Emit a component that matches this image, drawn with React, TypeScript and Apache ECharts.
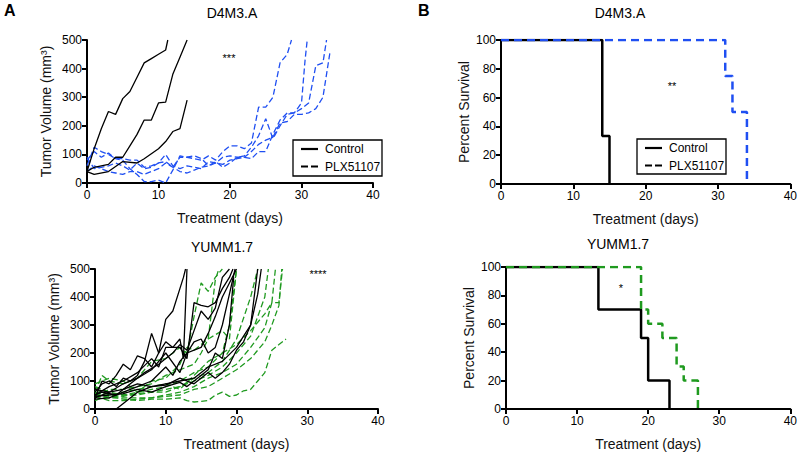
import React, { useEffect, useRef } from "react";
import * as echarts from "echarts";

// ---------- Data ----------
// Panel A top: D4M3.A tumor volume (day, mm3)
const d4Control: number[][][] = [
  [[0,40],[1,120],[2,190],[3,250],[4,240],[5,295],[6,320],[7,370],[8,420],[9,435],[10,450],[11,465],[11.3,500]],
  [[0,40],[1,55],[3,65],[4,90],[5,90],[6,130],[7,170],[8,220],[9,220],[10,280],[11,283],[12,380],[13,440],[14,500]],
  [[0,40],[1,30],[3,40],[5,75],[7,70],[8,85],[10,120],[11,145],[12,180],[13,190],[14,290]],
];
const d4Plx: number[][][] = [
  [[0,60],[1,125],[2,110],[3,100],[4,85],[5,85],[6,80],[7,80],[8,55],[9,60],[10,70],[11,75],[12,55],[13,90],[14,90],[15,85],[16,80],[17,95],[18,80],[19,110],[20,130],[21,130],[22,120],[23,140],[24,265],[25,265],[26,300],[27,420],[28,450],[28.6,500]],
  [[0,40],[1,60],[2,50],[3,40],[4,35],[5,30],[6,40],[7,40],[8,30],[9,40],[10,50],[11,70],[12,55],[13,40],[14,35],[15,45],[16,55],[17,60],[18,70],[19,65],[20,80],[21,85],[22,90],[23,85],[24,110],[25,110],[26,170],[27,220],[28,245],[29,245],[30,280],[30.5,430],[30.8,500]],
  [[0,80],[1,110],[2,90],[3,105],[4,85],[5,80],[6,50],[7,30],[8,5],[9,5],[10,10],[11,0],[12,45],[13,95],[14,90],[15,95],[16,85],[17,60],[18,75],[19,55],[20,70],[21,90],[22,95],[23,125],[24,165],[25,225],[26,155],[27,200],[28,240],[29,245],[30,260],[31,280],[32,410],[33,420],[33.5,500]],
  [[0,90],[1,50],[2,55],[3,60],[4,70],[5,60],[6,45],[7,70],[8,50],[9,55],[10,70],[11,100],[12,60],[13,50],[14,60],[15,55],[16,50],[17,75],[18,70],[19,90],[20,95],[21,90],[22,90],[23,110],[24,135],[25,150],[26,160],[27,210],[28,215],[29,240],[30,240],[31,245],[32,260],[33,300],[34,460]],
];

// Panel A bottom: YUMM1.7 tumor volume
const yuControl: number[][][] = [
  [[0,40],[1,100],[2,90],[3,120],[4,160],[5,140],[6,190],[7,180],[8,150],[9,200],[10,320],[11,350],[12,430],[12.5,470],[12.8,500]],
  [[0,60],[1,90],[2,100],[3,80],[4,110],[5,100],[6,120],[7,170],[8,270],[9,200],[10,240],[11,220],[12,250],[12.5,180],[13,500]],
  [[0,50],[2,80],[4,100],[6,130],[8,180],[9,150],[10,220],[11,220],[12,220],[13,180],[14,380],[15,370],[16,365],[17,380],[18,430],[19,470],[19.5,500]],
  [[0,40],[2,60],[4,90],[6,110],[8,140],[10,200],[12,130],[13,200],[14,210],[15,220],[16,270],[17,330],[18,400],[19,450],[20,500]],
  [[0,35],[2,40],[4,60],[6,80],[8,100],[10,150],[11,120],[12,170],[13,200],[14,240],[15,250],[16,200],[17,220],[18,300],[19,410],[19.8,500]],
  [[3,0],[4,20],[6,60],[8,80],[10,90],[12,100],[14,110],[16,150],[18,170],[20,220],[21,260],[22,300],[23,410],[23.5,500]],
  [[0,70],[2,60],[4,70],[6,90],[8,80],[10,85],[12,110],[14,90],[16,130],[17,110],[18,130],[19,160],[20,210],[21,240],[22,300],[23,500]],
  [[0,45],[2,50],[4,55],[6,70],[8,60],[10,80],[12,95],[13,80],[14,100],[16,140],[17,200],[18,180],[19,300],[19.6,470]],
  [[0,50],[1,60],[3,50],[5,90],[7,130],[9,160],[10,180],[11,200],[12,230],[13,210],[14,280],[15,350],[16,320],[17,360],[18,470],[19,500]],
];
const yuPlx: number[][][] = [
  [[0,60],[1,120],[2,100],[4,90],[6,110],[8,170],[10,180],[12,220],[13,200],[14,330],[15,450],[16,420],[17,470],[18,500]],
  [[0,40],[2,70],[4,70],[6,80],[8,90],[10,120],[12,140],[14,160],[15,200],[16,250],[17,460],[17.5,500]],
  [[0,80],[2,60],[4,50],[6,60],[8,70],[10,80],[12,100],[14,130],[16,150],[18,200],[19,300],[20,500]],
  [[0,50],[2,40],[4,50],[6,50],[8,60],[10,70],[12,80],[14,110],[16,130],[18,170],[20,250],[22,400],[23,500]],
  [[0,70],[2,50],[4,45],[6,55],[8,60],[10,60],[12,80],[14,100],[16,120],[18,150],[20,200],[22,260],[24,400],[24.5,500]],
  [[0,55],[2,40],[4,40],[6,40],[8,40],[10,50],[12,60],[14,80],[16,110],[18,130],[20,160],[22,220],[24,290],[25,380],[26,380],[26.5,500]],
  [[0,45],[2,30],[4,30],[6,35],[8,40],[10,45],[12,50],[14,70],[16,80],[18,110],[20,140],[22,180],[24,240],[25,300],[26,370],[26.4,500]],
  [[0,60],[2,45],[4,35],[6,30],[8,35],[10,35],[12,40],[13,30],[14,25],[16,30],[17,50],[18,60],[19,45],[20,50],[21,65],[22,70],[23,100],[24,130],[25,210],[26,230],[27,250]],
  [[0,90],[1,100],[2,110],[4,100],[6,60],[8,100],[10,110],[12,160],[13,220],[14,210],[16,250],[18,280],[19,250],[20,500]],
  [[0,30],[2,50],[4,60],[6,70],[8,80],[10,90],[12,70],[14,120],[16,170],[18,200],[20,230],[22,280],[24,340],[25,380],[25.5,500]],
];

// Panel B: survival steps (day, percent)
const d4SurvControl: number[][] = [[0,100],[14,33.3],[15,0]];
const d4SurvPlx: number[][] = [[0,100],[31,75],[32,50],[34,0]];
const yuSurvControl: number[][] = [[0,100],[13,70],[19,50],[20,20],[23,0]];
const yuSurvPlx: number[][] = [[0,100],[19,70],[20,60],[22,50],[24,30],[25,20],[27,0]];

const titles = ["D4M3.A", "D4M3.A", "YUMM1.7", "YUMM1.7"];
const legendNames = ["Control", "PLX51107"];
const stars = ["***", "**", "****", "*"];

const BLUE = "#1f4ff2";
const GREEN = "#1f9a1f";
const FONT = "Liberation Sans, Arial, sans-serif";

export default function App() {
  const ref = useRef<HTMLDivElement>(null);
  useEffect(() => {
    if (!ref.current) return;
    const chart = echarts.init(ref.current, undefined, { renderer: "svg" });

    const grids = [
      { left: 87, top: 40, width: 286, height: 143 },
      { left: 501, top: 40, width: 291, height: 144 },
      { left: 95, top: 269, width: 283, height: 141 },
      { left: 506, top: 267, width: 286, height: 143 },
    ];

    const xAxes = grids.map((_, i) => ({
      type: "value",
      gridIndex: i,
      min: 0,
      max: 40,
      interval: 10,
      axisLine: { show: true, onZero: false, lineStyle: { color: "#000", width: 2 } },
      axisTick: { show: true, length: 5, lineStyle: { color: "#000", width: 2 } },
      axisLabel: { color: "#000", fontSize: 12, fontFamily: FONT, margin: 6 },
      splitLine: { show: false },
      name: "Treatment (days)",
      nameLocation: "middle",
      nameGap: 28,
      nameTextStyle: { color: "#111", fontSize: 14, fontFamily: FONT },
    }));

    const yAxes = grids.map((_, i) => {
      const surv = i % 2 === 1;
      return {
        type: "value",
        gridIndex: i,
        min: 0,
        max: surv ? 100 : 500,
        interval: surv ? 20 : 100,
        axisLine: { show: true, onZero: false, lineStyle: { color: "#000", width: 2 } },
        axisTick: { show: true, length: 5, lineStyle: { color: "#000", width: 2 } },
        axisLabel: { color: "#000", fontSize: 12, fontFamily: FONT, margin: 5 },
        splitLine: { show: false },
        name: surv ? "Percent Survival" : "Tumor Volume (mm³)",
        nameLocation: "middle",
        nameGap: surv ? 30 : 34,
        nameTextStyle: { color: "#111", fontSize: 14, fontFamily: FONT },
      };
    });

    const series: any[] = [];
    const addLines = (sets: number[][][], idx: number, color: string, dashed: boolean, prefix: string) => {
      sets.forEach((d, k) => {
        series.push({
          type: "line",
          name: prefix + k,
          xAxisIndex: idx,
          yAxisIndex: idx,
          data: d,
          showSymbol: false,
          symbol: "none",
          lineStyle: { color, width: 1.3, type: dashed ? [6, 3] : "solid" },
          z: dashed ? 2 : 3,
        });
      });
    };
    addLines(d4Plx, 0, BLUE, true, "d4p");
    addLines(d4Control, 0, "#000", false, "d4c");
    addLines(yuPlx, 2, GREEN, true, "yup");
    addLines(yuControl, 2, "#000", false, "yuc");

    const addSurv = (d: number[][], idx: number, color: string, dashed: boolean, name: string, z: number) => {
      series.push({
        type: "line",
        name,
        xAxisIndex: idx,
        yAxisIndex: idx,
        data: d,
        step: "end",
        showSymbol: false,
        symbol: "none",
        lineStyle: { color, width: 2.5, type: dashed ? [8, 5] : "solid" },
        z,
      });
    };
    addSurv(d4SurvControl, 1, "#000", false, "s1c", 3);
    addSurv(d4SurvPlx, 1, BLUE, true, "s1p", 4);
    addSurv(yuSurvControl, 3, "#000", false, "s2c", 3);
    addSurv(yuSurvPlx, 3, GREEN, true, "s2p", 4);

    const titlePos = [
      { x: 232, y: 6 },
      { x: 620, y: 6 },
      { x: 222, y: 240 },
      { x: 618, y: 237 },
    ];
    const starPos = [
      { x: 229, y: 52 },
      { x: 672, y: 80 },
      { x: 318, y: 268 },
      { x: 621, y: 282 },
    ];
    const legendBoxes = [
      { x: 293, y: 140, w: 89, h: 36 },
      { x: 637, y: 139, w: 89, h: 35 },
    ];

    const legendGraphics: any[] = [];
    legendBoxes.forEach((b) => {
      legendGraphics.push({
        type: "rect",
        shape: { x: b.x, y: b.y, width: b.w, height: b.h },
        style: { fill: "#fff", stroke: "#000", lineWidth: 1.3 },
        z: 100,
      });
      legendNames.forEach((n, k) => {
        const cy = b.y + 9 + k * 17.5;
        legendGraphics.push({
          type: "line",
          shape: { x1: b.x + 8, y1: cy, x2: b.x + 25, y2: cy },
          style: { stroke: "#000", lineWidth: 2.2, lineDash: k === 1 ? [7, 3] : null },
          z: 101,
        });
        legendGraphics.push({
          type: "text",
          x: b.x + 32,
          y: cy,
          style: { text: n, fill: "#000", fontSize: 12, fontFamily: FONT, textVerticalAlign: "middle" },
          z: 101,
        });
      });
    });

    chart.setOption({
      animation: false,
      backgroundColor: "#fff",
      grid: grids,
      xAxis: xAxes,
      yAxis: yAxes,
      series,
      graphic: [
        ...titles.map((t, i) => ({
          type: "text",
          x: titlePos[i].x,
          y: titlePos[i].y,
          style: { text: t, fill: "#000", fontSize: 14, fontFamily: FONT, textAlign: "center" },
        })),
        ...stars.map((t, i) => ({
          type: "text",
          x: starPos[i].x,
          y: starPos[i].y,
          style: { text: t, fill: "#000", fontSize: 11, fontFamily: FONT, textAlign: "center" },
        })),
        ...legendGraphics,
        { type: "text", x: 4, y: 2, style: { text: "A", fill: "#000", fontSize: 16, fontWeight: "bold", fontFamily: FONT } },
        { type: "text", x: 418, y: 2, style: { text: "B", fill: "#000", fontSize: 16, fontWeight: "bold", fontFamily: FONT } },
      ],
    });
    return () => chart.dispose();
  }, []);

  return <div ref={ref} style={{ width: 800, height: 452, position: "absolute", left: 0, top: 0 }} />;
}
